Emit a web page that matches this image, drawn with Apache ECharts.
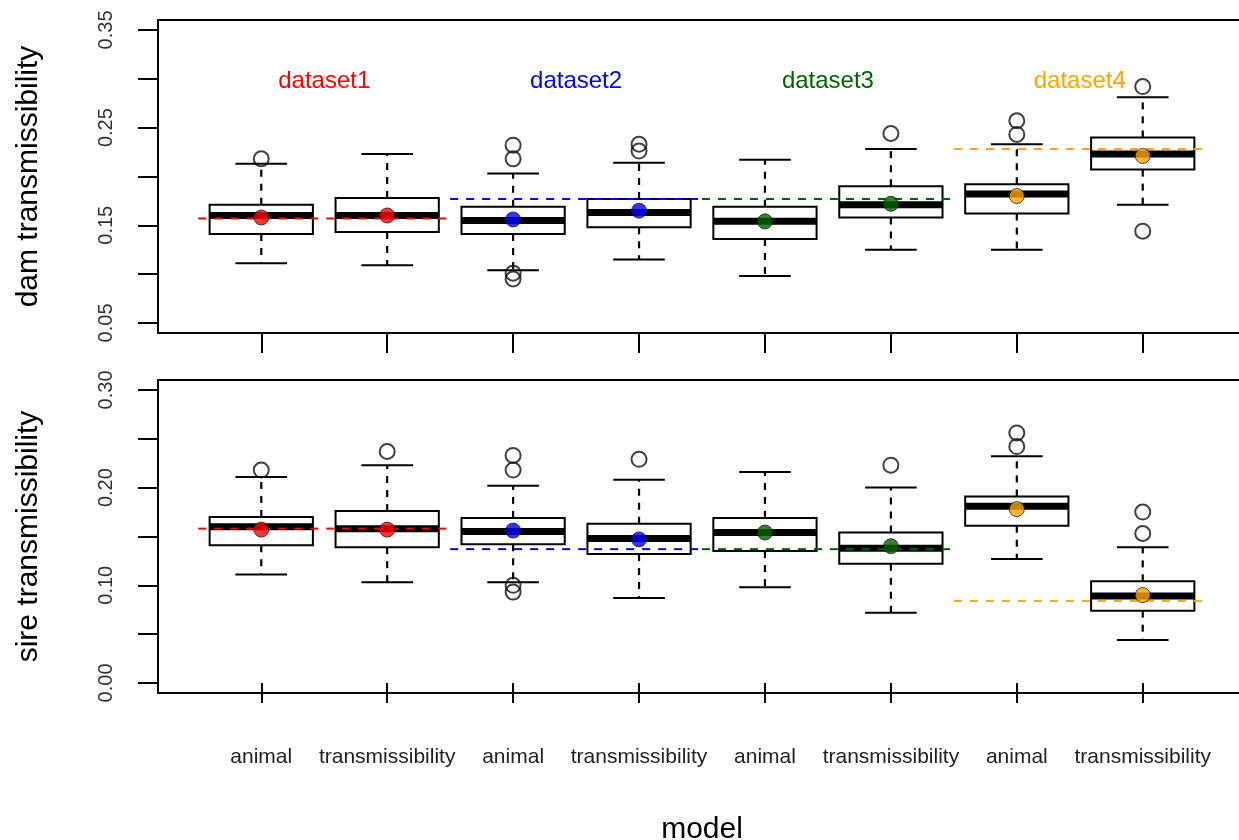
<!DOCTYPE html>
<html>
<head>
<meta charset="utf-8">
<title>dam / sire transmissibility</title>
<script src="https://cdn.jsdelivr.net/npm/echarts@6/dist/echarts.min.js"></script>
<style>
  html, body { margin: 0; padding: 0; background: #fff; }
  #main { width: 1239px; height: 840px; }
</style>
</head>
<body>
<div id="main"></div>
<script>
var models = ['animal', 'transmissibility', 'animal', 'transmissibility',
  'animal', 'transmissibility', 'animal', 'transmissibility'];
var datasets = ['dataset1', 'dataset2', 'dataset3', 'dataset4'];
var datasetColors = ['#ff0000', '#0000ff', '#006400', '#ffa500'];
var datasetLabelX = [1.5, 3.5, 5.5, 7.5];
var datasetLabelY = 0.297;

// dam panel (top)
var damLow = [0.111, 0.109, 0.104, 0.115, 0.098, 0.125, 0.125, 0.171];
var damQ1 = [0.141, 0.143, 0.141, 0.148, 0.136, 0.158, 0.162, 0.207];
var damMed = [0.160, 0.160, 0.155, 0.163, 0.154, 0.171, 0.182, 0.223];
var damQ3 = [0.171, 0.178, 0.169, 0.177, 0.169, 0.190, 0.192, 0.240];
var damHigh = [0.213, 0.223, 0.203, 0.214, 0.217, 0.228, 0.233, 0.281];
var damMean = [0.158, 0.160, 0.156, 0.165, 0.154, 0.172, 0.180, 0.221];
var damOutliers = [[1, 0.218], [3, 0.232], [3, 0.218], [3, 0.101], [3, 0.095],
  [4, 0.233], [4, 0.226], [6, 0.244], [7, 0.257], [7, 0.243], [8, 0.292], [8, 0.144]];
var damRef = [0.157, 0.177, 0.177, 0.228];
var damTicks = [0.05, 0.10, 0.15, 0.20, 0.25, 0.30, 0.35];
var damTickLabels = [0.05, 0.15, 0.25, 0.35];

// sire panel (bottom)
var sireLow = [0.111, 0.103, 0.103, 0.087, 0.098, 0.072, 0.127, 0.044];
var sireQ1 = [0.141, 0.139, 0.142, 0.132, 0.135, 0.122, 0.161, 0.074];
var sireMed = [0.160, 0.158, 0.155, 0.148, 0.154, 0.138, 0.181, 0.089];
var sireQ3 = [0.170, 0.176, 0.169, 0.163, 0.169, 0.154, 0.191, 0.104];
var sireHigh = [0.211, 0.223, 0.202, 0.208, 0.216, 0.200, 0.232, 0.139];
var sireMean = [0.157, 0.157, 0.156, 0.147, 0.154, 0.140, 0.178, 0.090];
var sireOutliers = [[1, 0.218], [2, 0.237], [3, 0.233], [3, 0.218], [3, 0.100], [3, 0.093],
  [4, 0.229], [6, 0.223], [7, 0.256], [7, 0.242], [8, 0.175], [8, 0.153]];
var sireRef = [0.158, 0.137, 0.137, 0.084];
var sireTicks = [0.00, 0.05, 0.10, 0.15, 0.20, 0.25, 0.30];
var sireTickLabels = [0.00, 0.10, 0.20, 0.30];

var xPositions = [1, 2, 3, 4, 5, 6, 7, 8];
var FONT = '"Liberation Sans", Arial, Helvetica, sans-serif';

function boxData(low, q1, med, q3, high) {
  return low.map(function (v, i) {
    return [i + 1, v, q1[i], med[i], q3[i], high[i]];
  });
}

// R style box: white box, thick median, dashed whiskers, short caps
function renderBox(params, api) {
  var x = api.value(0);
  var low = api.coord([x, api.value(1)]);
  var q1 = api.coord([x, api.value(2)]);
  var med = api.coord([x, api.value(3)]);
  var q3 = api.coord([x, api.value(4)]);
  var high = api.coord([x, api.value(5)]);
  var cx = low[0];
  var bw = api.size([0.82, 0])[0];
  var cw = bw / 2;
  var solid = { stroke: '#000', lineWidth: 2 };
  var dashed = { stroke: '#000', lineWidth: 2.2, lineDash: [7, 7] };
  return {
    type: 'group',
    children: [
      { type: 'line', shape: { x1: cx, y1: q3[1], x2: cx, y2: high[1] }, style: dashed },
      { type: 'line', shape: { x1: cx, y1: q1[1], x2: cx, y2: low[1] }, style: dashed },
      { type: 'line', shape: { x1: cx - cw / 2, y1: high[1], x2: cx + cw / 2, y2: high[1] }, style: solid },
      { type: 'line', shape: { x1: cx - cw / 2, y1: low[1], x2: cx + cw / 2, y2: low[1] }, style: solid },
      { type: 'rect', shape: { x: cx - bw / 2, y: q3[1], width: bw, height: q1[1] - q3[1] },
        style: { fill: '#fff', stroke: '#000', lineWidth: 2 } },
      { type: 'line', shape: { x1: cx - bw / 2, y1: med[1], x2: cx + bw / 2, y2: med[1] },
        style: { stroke: '#000', lineWidth: 7 } }
    ]
  };
}

function meanData(mean) {
  return mean.map(function (v, i) {
    return { value: [i + 1, v], itemStyle: { color: datasetColors[Math.floor(i / 2)] } };
  });
}

function refSeries(ref, idx) {
  return ref.map(function (v, k) {
    return {
      type: 'line', xAxisIndex: idx, yAxisIndex: idx, silent: true, z: 3,
      symbol: 'none',
      data: [[2 * k + 0.5, v], [2 * k + 2.5, v]],
      lineStyle: { color: datasetColors[k], width: 2, type: [8, 8] }
    };
  });
}

function xAxisFor(idx, withLabels) {
  return {
    type: 'value', gridIndex: idx, min: 0.18, max: 8.82,
    axisLine: { show: false },
    splitLine: { show: false },
    axisTick: { show: true, customValues: xPositions, length: 20, lineStyle: { color: '#000', width: 2 } },
    axisLabel: {
      show: withLabels, customValues: xPositions, margin: 54,
      color: '#222', fontSize: 21, fontFamily: FONT,
      formatter: function (v) { return models[Math.round(v) - 1]; }
    }
  };
}

function yAxisFor(idx, min, max, ticks, labels, name) {
  return {
    type: 'value', gridIndex: idx, min: min, max: max,
    name: name, nameLocation: 'middle', nameRotate: 90, nameGap: 114,
    nameTextStyle: { color: '#000', fontSize: 30, fontFamily: FONT },
    axisLine: { show: false },
    splitLine: { show: false },
    axisTick: { show: true, customValues: ticks, length: 20, lineStyle: { color: '#000', width: 2 } },
    axisLabel: {
      customValues: labels, rotate: 90, margin: 42,
      color: '#333', fontSize: 20, fontFamily: FONT,
      formatter: function (v) { return v.toFixed(2); }
    }
  };
}

var chart = echarts.init(document.getElementById('main'), null, { renderer: 'canvas' });

var series = [
  { type: 'custom', xAxisIndex: 0, yAxisIndex: 0, z: 2, renderItem: renderBox,
    encode: { x: 0, y: [1, 2, 3, 4, 5] }, data: boxData(damLow, damQ1, damMed, damQ3, damHigh) },
  { type: 'custom', xAxisIndex: 1, yAxisIndex: 1, z: 2, renderItem: renderBox,
    encode: { x: 0, y: [1, 2, 3, 4, 5] }, data: boxData(sireLow, sireQ1, sireMed, sireQ3, sireHigh) },
  { type: 'scatter', xAxisIndex: 0, yAxisIndex: 0, z: 2, symbol: 'circle', symbolSize: 15,
    itemStyle: { color: 'rgba(0,0,0,0)', borderColor: '#111', borderWidth: 2 }, data: damOutliers },
  { type: 'scatter', xAxisIndex: 1, yAxisIndex: 1, z: 2, symbol: 'circle', symbolSize: 15,
    itemStyle: { color: 'rgba(0,0,0,0)', borderColor: '#111', borderWidth: 2 }, data: sireOutliers }
];
series = series.concat(refSeries(damRef, 0), refSeries(sireRef, 1));
series.push(
  { type: 'scatter', xAxisIndex: 0, yAxisIndex: 0, z: 4, symbolSize: 15,
    itemStyle: { borderColor: '#222', borderWidth: 1 }, data: meanData(damMean) },
  { type: 'scatter', xAxisIndex: 1, yAxisIndex: 1, z: 4, symbolSize: 15,
    itemStyle: { borderColor: '#222', borderWidth: 1 }, data: meanData(sireMean) },
  // dataset names inside the top panel
  { type: 'custom', xAxisIndex: 0, yAxisIndex: 0, z: 5,
    data: datasets.map(function (n, k) { return [datasetLabelX[k], datasetLabelY, k]; }),
    renderItem: function (params, api) {
      var p = api.coord([api.value(0), api.value(1)]);
      var k = api.value(2);
      return {
        type: 'text', x: p[0], y: p[1],
        style: { text: datasets[k], fill: datasetColors[k], fontSize: 24, fontFamily: FONT,
          align: 'center', verticalAlign: 'middle' }
      };
    } }
);

var option = {
  animation: false,
  backgroundColor: '#fff',
  grid: [
    { left: 158, top: 20, width: 1088, height: 313, outerBoundsMode: 'none',
      show: true, borderColor: '#000', borderWidth: 2, backgroundColor: 'transparent' },
    { left: 158, top: 380, width: 1088, height: 313, outerBoundsMode: 'none',
      show: true, borderColor: '#000', borderWidth: 2, backgroundColor: 'transparent' }
  ],
  xAxis: [
    xAxisFor(0, false),
    Object.assign(xAxisFor(1, true), {
      name: 'model', nameLocation: 'middle', nameGap: 122,
      nameTextStyle: { color: '#000', fontSize: 30, fontFamily: FONT }
    })
  ],
  yAxis: [
    yAxisFor(0, 0.0397, 0.3602, damTicks, damTickLabels, 'dam transmissibility'),
    yAxisFor(1, -0.0103, 0.3102, sireTicks, sireTickLabels, 'sire transmissibility')
  ],
  series: series
};

chart.setOption(option);
</script>
</body>
</html>
